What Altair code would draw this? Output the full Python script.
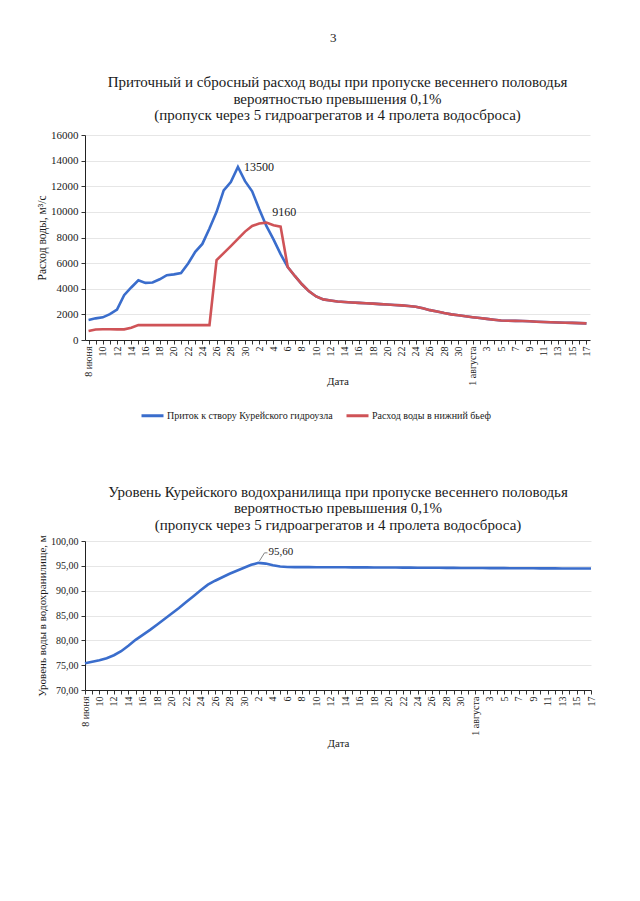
import json
import altair as alt
import pandas as pd

# ---------------- data ----------------
# x axis: every day from 8 June to 17 August (71 days); labels every second day
x_tick_labels = ["8 июня", "10", "12", "14", "16", "18", "20", "22", "24", "26", "28", "30",
                 "2", "4", "6", "8", "10", "12", "14", "16", "18", "20", "22", "24", "26", "28", "30",
                 "1 августа", "3", "5", "7", "9", "11", "13", "15", "17"]

series_names = ["Приток к створу Курейского гидроузла", "Расход воды в нижний бьеф"]

# inflow, m3/s
inflow = [1560, 1690, 1770, 2020, 2380, 3500, 4100, 4660, 4460, 4490,
          4740, 5060, 5120, 5230, 5970, 6880, 7500, 8700, 10000, 11680,
          12330, 13500, 12400, 11600, 10200, 8900, 7850, 6700,
          5700, 5000, 4350, 3800, 3400, 3170, 3080, 3000, 2960, 2930,
          2900, 2870, 2840, 2800, 2770, 2730, 2700, 2650, 2600, 2480,
          2330, 2230, 2100, 2000, 1930, 1850, 1780, 1720, 1650, 1580,
          1520, 1500, 1490, 1480, 1460, 1430, 1410, 1390, 1370, 1350,
          1340, 1320, 1300]

# outflow to tailwater, m3/s
outflow = [700, 820, 840, 840, 830, 830, 950, 1170, 1160, 1160,
           1160, 1160, 1160, 1160, 1160, 1160, 1160, 1160, 6230, 6780,
           7330, 7890, 8460, 8900, 9100, 9160, 8950, 8850,
           5700, 5000, 4350, 3800, 3400, 3170, 3080, 3000, 2960, 2930,
           2900, 2870, 2840, 2800, 2770, 2730, 2700, 2650, 2600, 2480,
           2330, 2230, 2100, 2000, 1930, 1850, 1780, 1720, 1650, 1580,
           1520, 1500, 1490, 1480, 1460, 1430, 1410, 1390, 1370, 1350,
           1340, 1320, 1300]

# reservoir level, m
level = [75.40, 75.70, 76.00, 76.40, 77.00, 77.80, 78.90, 80.10, 81.10, 82.10,
         83.20, 84.30, 85.40, 86.50, 87.70, 88.90, 90.10, 91.20, 92.00, 92.70,
         93.40, 94.00, 94.60, 95.20, 95.60, 95.45, 95.10, 94.85,
         94.75, 94.74, 94.74, 94.73, 94.72, 94.72, 94.71, 94.70, 94.70, 94.69,
         94.68, 94.68, 94.67, 94.66, 94.66, 94.65, 94.64, 94.63, 94.62, 94.61,
         94.60, 94.60, 94.59, 94.58, 94.57, 94.56, 94.56, 94.55, 94.54, 94.53,
         94.53, 94.52, 94.51, 94.51, 94.50, 94.49, 94.49, 94.48, 94.47, 94.47,
         94.46, 94.46, 94.45]

assert len(inflow) == len(outflow) == len(level) == 71

# ---------------- styling ----------------
FONT = "Liberation Serif"
TXT = "#1a1a1a"
BLUE = "#3a6dcc"
RED = "#cf5357"
GRID = "#e6e6e6"

days = list(range(len(inflow)))
lab_map = {2 * i: lab for i, lab in enumerate(x_tick_labels)}
day_labels = [lab_map.get(d, "") for d in days]
label_expr = json.dumps(day_labels, ensure_ascii=False) + "[datum.value]"


def x_axis(title_pad):
    return alt.Axis(values=days, labelExpr=label_expr, labelAngle=-90, labelAlign="right",
                    labelBaseline="middle", labelOverlap=False, labelFlush=False, labelBound=False,
                    labelFont=FONT, labelFontSize=10, labelColor=TXT, labelPadding=2,
                    tickSize=4, tickColor="#333", domainColor="#222", grid=False,
                    title="Дата", titleFont=FONT, titleFontSize=11, titleFontWeight="normal",
                    titleColor=TXT, titlePadding=title_pad)


# ---------------- top chart ----------------
top_df = pd.DataFrame({
    "day": days + days,
    "value": inflow + outflow,
    "series": [series_names[0]] * len(days) + [series_names[1]] * len(days),
})

x_top = alt.X("day:Q", scale=alt.Scale(domain=[-0.5, 70.5], nice=False, zero=False), axis=x_axis(-10))
y_top = alt.Y("value:Q", scale=alt.Scale(domain=[0, 16000], nice=False),
              axis=alt.Axis(values=list(range(0, 16001, 2000)), format="d",
                            labelFont=FONT, labelFontSize=11, labelColor=TXT, labelPadding=3,
                            tickSize=4, tickColor="#333", domainColor="#222",
                            gridColor=GRID, title="Расход воды, м³/с", titleFont=FONT,
                            titleFontSize=11.5, titleFontWeight="normal", titleColor=TXT,
                            titlePadding=3))
color = alt.Color("series:N",
                  scale=alt.Scale(domain=series_names, range=[BLUE, RED]),
                  legend=alt.Legend(orient="none", legendX=55, legendY=268, direction="horizontal",
                                    title=None, symbolType="stroke", symbolSize=484,
                                    symbolStrokeWidth=3, labelFont=FONT, labelFontSize=10,
                                    labelColor=TXT, labelOffset=2, columnPadding=7,
                                    labelLimit=0, padding=0))

base = alt.Chart(top_df)
blue_line = base.transform_filter(alt.datum.series == series_names[0]).mark_line(
    strokeWidth=2.6).encode(x=x_top, y=y_top, color=color)
red_line = base.transform_filter(alt.datum.series == series_names[1]).mark_line(
    strokeWidth=2.6).encode(x=x_top, y=y_top, color=color)

i_in = inflow.index(max(inflow))
i_out = outflow.index(max(outflow))
lab_in = alt.Chart(pd.DataFrame({"day": [i_in], "value": [inflow[i_in]], "txt": [str(inflow[i_in])]})).mark_text(
    align="left", baseline="middle", dx=6, dy=0, font=FONT, fontSize=12, color=TXT
).encode(x=x_top, y=y_top, text="txt:N")
lab_out = alt.Chart(pd.DataFrame({"day": [i_out], "value": [outflow[i_out]], "txt": [str(outflow[i_out])]})).mark_text(
    align="left", baseline="middle", dx=6, dy=-11, font=FONT, fontSize=12, color=TXT
).encode(x=x_top, y=y_top, text="txt:N")

top_title = alt.TitleParams(
    ["Приточный и сбросный расход воды при пропуске весеннего половодья",
     "вероятностью превышения 0,1%",
     "(пропуск через 5 гидроагрегатов и 4 пролета водосброса)"],
    font=FONT, fontSize=15, fontWeight="normal", color=TXT, lineHeight=16.5,
    anchor="middle", offset=6)

top = alt.layer(blue_line, red_line, lab_in, lab_out).properties(
    width=505, height=205, title=top_title)

# ---------------- bottom chart ----------------
bot_df = pd.DataFrame({"day": days, "value": level})
x_bot = alt.X("day:Q", scale=alt.Scale(domain=[0, 70], nice=False, zero=False), axis=x_axis(2))
y_bot = alt.Y("value:Q", scale=alt.Scale(domain=[70, 100], nice=False, zero=False),
              axis=alt.Axis(values=[70, 75, 80, 85, 90, 95, 100],
                            labelExpr="replace(format(datum.value, '.2f'), '.', ',')",
                            labelFont=FONT, labelFontSize=10, labelColor=TXT, labelPadding=3,
                            tickSize=4, tickColor="#333", domainColor="#222",
                            gridColor=GRID, title="Уровень воды в водохранилище, м", titleFont=FONT,
                            titleFontSize=11, titleFontWeight="normal", titleColor=TXT,
                            titlePadding=3))

level_line = alt.Chart(bot_df).mark_line(strokeWidth=2.6, color=BLUE).encode(x=x_bot, y=y_bot)
i_lv = level.index(max(level))
peak_df = pd.DataFrame({"day": [i_lv], "value": [level[i_lv]],
                        "txt": [f"{level[i_lv]:.2f}".replace(".", ",")]})
leader = alt.Chart(peak_df).mark_rule(color="#666", strokeWidth=0.8, xOffset=1, yOffset=-2,
                                      x2Offset=6, y2Offset=-10).encode(
    x=x_bot, x2="day:Q", y=y_bot, y2="value:Q")
leader_h = alt.Chart(peak_df).mark_rule(color="#666", strokeWidth=0.8, xOffset=6, yOffset=-10,
                                        x2Offset=9, y2Offset=-10).encode(
    x=x_bot, x2="day:Q", y=y_bot, y2="value:Q")
lv_label = alt.Chart(peak_df).mark_text(align="left", baseline="middle", dx=10, dy=-11,
                                        font=FONT, fontSize=11, color=TXT).encode(
    x=x_bot, y=y_bot, text="txt:N")

bot_title = alt.TitleParams(
    ["Уровень Курейского водохранилища при пропуске весеннего половодья",
     "вероятностью превышения 0,1%",
     "(пропуск через 5 гидроагрегатов и 4 пролета водосброса)"],
    font=FONT, fontSize=15, fontWeight="normal", color=TXT, lineHeight=16.5,
    anchor="middle", offset=2)

bottom = alt.layer(level_line, leader, leader_h, lv_label).properties(
    width=506, height=149, title=bot_title)

chart = alt.vconcat(top, bottom, spacing=97).properties(
    title=alt.TitleParams("3", font=FONT, fontSize=13, fontWeight="normal", color=TXT,
                          anchor="middle", dx=17, offset=30),
    padding={"left": 28, "top": 24, "right": 0, "bottom": 0},
    background="white",
).configure_view(strokeWidth=0)

chart.save("out.html", embed_options={"renderer": "svg", "actions": False})
